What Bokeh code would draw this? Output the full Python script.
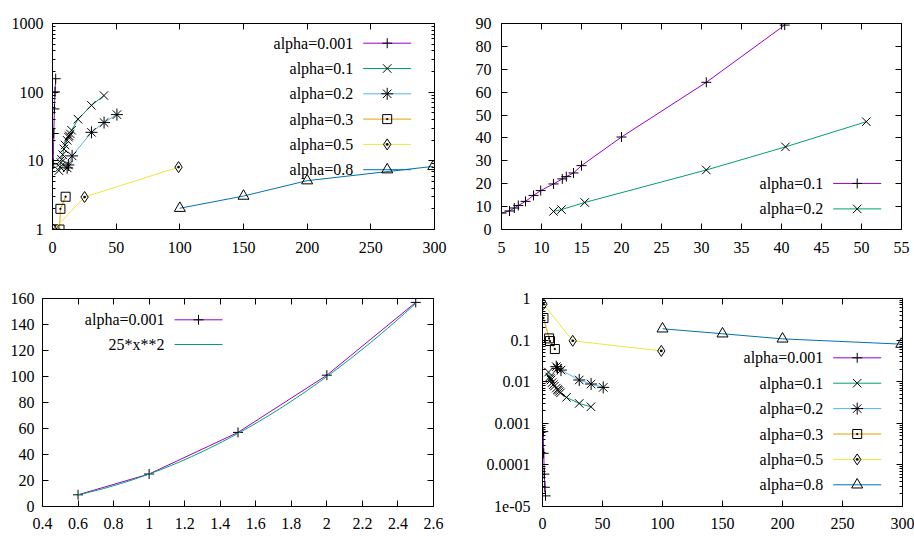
import math
import numpy as np
from bokeh.plotting import figure
from bokeh.models import Range1d, FixedTicker, LinearAxis, LogAxis, CustomJSTickFormatter
from bokeh.layouts import column, row
from bokeh.embed import file_html
from bokeh.resources import INLINE
from bokeh.core.properties import value

FONT = "'Liberation Serif', 'DejaVu Serif', serif"
FS = "16px"

# ---------------- data ----------------
names = ["alpha=0.001", "alpha=0.1", "alpha=0.2", "alpha=0.3", "alpha=0.5", "alpha=0.8"]
colors = ["#9400d3", "#009e73", "#56b4e9", "#e69f00", "#f0e442", "#0072b2"]
markers = ["cross", "x", "asterisk", "square_dot", "diamond_dot", "triangle"]
msizes = {"cross": 10, "x": 12, "asterisk": 12, "square_dot": 9, "diamond_dot": 11, "triangle": 11}

x_a0001 = [0.6, 1.0, 1.5, 2.0, 2.5]
y_a0001 = [9, 25, 57, 101, 157]
r_a0001 = [6.3e-4, 1.9e-4, 6.0e-5, 2.9e-5, 1.8e-5]

x_a01 = [5.0, 6.0, 6.6, 7.1, 8.0, 9.0, 9.9, 11.5, 12.6, 13.1, 14.0, 15.0, 20.0, 30.6, 40.4]
y_a01 = [7.2, 8.1, 9.4, 10.5, 12.3, 14.9, 17.0, 19.9, 22.1, 23.1, 24.7, 27.9, 40.4, 64.3, 89.3]
r_a01 = [0.017, 0.013, 0.012, 0.011, 0.0095, 0.0085, 0.0078, 0.007, 0.0065, 0.0062, 0.0058,
         0.0054, 0.0042, 0.0030, 0.0025]

x_a02 = [11.5, 12.5, 15.4, 30.6, 40.5, 50.6]
y_a02 = [7.9, 8.7, 11.8, 26.0, 36.1, 47.1]
r_a02 = [0.023, 0.021, 0.019, 0.011, 0.0088, 0.0073]

x_a03 = [0.8, 5.5, 6.2, 10.3]
y_a03 = [1.0, 1.0, 2.0, 3.0]
r_a03 = [0.34, 0.11, 0.095, 0.061]

x_a05 = [0.8, 25.2, 99.0]
y_a05 = [1.0, 2.97, 8.1]
r_a05 = [0.73, 0.096, 0.055]

x_a08 = [100, 150, 200, 299]
y_a08 = [2.04, 3.07, 5.14, 8.3]
r_a08 = [0.187, 0.142, 0.107, 0.080]

func_label = "25*x**2"
func_coef = 25
func_power = 2

# tick labels
tl_xticks = [0, 50, 100, 150, 200, 250, 300]
tl_xlabels = ["0", "50", "100", "150", "200", "250", "300"]
tl_yticks = [1, 10, 100, 1000]
tl_ylabels = ["1", "10", "100", "1000"]

tr_xticks = [5, 10, 15, 20, 25, 30, 35, 40, 45, 50, 55]
tr_xlabels = ["5", "10", "15", "20", "25", "30", "35", "40", "45", "50", "55"]
tr_yticks = [0, 10, 20, 30, 40, 50, 60, 70, 80, 90]
tr_ylabels = ["0", "10", "20", "30", "40", "50", "60", "70", "80", "90"]

bl_xticks = [0.4, 0.6, 0.8, 1.0, 1.2, 1.4, 1.6, 1.8, 2.0, 2.2, 2.4, 2.6]
bl_xlabels = ["0.4", "0.6", "0.8", "1", "1.2", "1.4", "1.6", "1.8", "2", "2.2", "2.4", "2.6"]
bl_yticks = [0, 20, 40, 60, 80, 100, 120, 140, 160]
bl_ylabels = ["0", "20", "40", "60", "80", "100", "120", "140", "160"]

br_xticks = [0, 50, 100, 150, 200, 250, 300]
br_xlabels = ["0", "50", "100", "150", "200", "250", "300"]
br_yticks = [1e-05, 0.0001, 0.001, 0.01, 0.1, 1]
br_ylabels = ["1e-05", "0.0001", "0.001", "0.01", "0.1", "1"]


def log_minor(lo_exp, hi_exp):
    return [k * 10.0 ** e for e in range(lo_exp, hi_exp) for k in range(2, 10)]


def fmt(ticks, labels):
    return CustomJSTickFormatter(args=dict(t=list(ticks), l=list(labels)), code="""
        for (let i = 0; i < t.length; i++) {
            if (Math.abs(t[i] - tick) <= 1e-9 * Math.max(Math.abs(t[i]), 1e-12)) { return l[i]; }
        }
        return '';
    """)


def style_axis(ax, ticks, minor, formatter, standoff, hidden=False):
    ax.ticker = FixedTicker(ticks=list(ticks), minor_ticks=list(minor))
    ax.formatter = formatter
    ax.major_tick_in = 6
    ax.major_tick_out = 0
    ax.minor_tick_in = 3
    ax.minor_tick_out = 0
    ax.major_label_standoff = standoff
    ax.major_label_text_font = FONT
    ax.major_label_text_font_size = "1px" if hidden else FS
    ax.major_label_text_color = "black"
    ax.axis_line_color = "black"
    ax.axis_line_width = 1
    ax.major_tick_line_color = "black"
    ax.minor_tick_line_color = "black"


def make_fig(w, h, bl, br, bt, bb, xr, yr, ylog, xt, xl, yt, yl, ymin, xstand, ystand):
    p = figure(width=w, height=h, x_range=Range1d(*xr), y_range=Range1d(*yr),
               y_axis_type="log" if ylog else "linear", output_backend="svg",
               toolbar_location=None, title=None,
               min_border_left=bl, min_border_right=br, min_border_top=bt, min_border_bottom=bb)
    p.grid.visible = False
    p.outline_line_color = None
    p.background_fill_color = "white"
    p.border_fill_color = "white"
    style_axis(p.xaxis[0], xt, [], fmt(xt, xl), xstand)
    style_axis(p.yaxis[0], yt, ymin, fmt(yt, yl), ystand)
    top = LinearAxis()
    style_axis(top, xt, [], CustomJSTickFormatter(code="return '';"), 0, hidden=True)
    right = LogAxis() if ylog else LinearAxis()
    style_axis(right, yt, ymin, CustomJSTickFormatter(code="return '';"), 0, hidden=True)
    p.add_layout(top, "above")
    p.add_layout(right, "right")
    return p


def series(p, xs, ys, color, marker):
    p.line(x=xs, y=ys, line_color=color, line_width=1)
    if marker:
        p.scatter(x=xs, y=ys, marker=marker, size=msizes[marker], line_color="black",
                  fill_color=None, line_width=1)


def draw_key(p, xr, yr, ylog, fw, fh, text_right, top0, dy, entries):
    def dx(px):
        return xr[0] + px / fw * (xr[1] - xr[0])

    def dyv(pyt):
        f = 1 - pyt / fh
        if ylog:
            l0, l1 = math.log10(yr[0]), math.log10(yr[1])
            return 10 ** (l0 + f * (l1 - l0))
        return yr[0] + f * (yr[1] - yr[0])

    for i, (label, color, marker) in enumerate(entries):
        yy = dyv(top0 + i * dy)
        p.text(x=[dx(text_right)], y=[yy], text=[label], text_align="right",
               text_baseline="middle", text_font=value(FONT), text_font_size=value(FS),
               text_color="black")
        p.line(x=[dx(text_right + 10), dx(text_right + 58)], y=[yy, yy], line_color=color, line_width=1)
        if marker:
            p.scatter(x=[dx(text_right + 34)], y=[yy], marker=marker, size=msizes[marker],
                      line_color="black", fill_color=None, line_width=1)


# ---------------- top-left ----------------
tl_xr, tl_yr = (0, 300), (1, 1000)
p1 = make_fig(468, 270, 52, 34, 23, 41, tl_xr, tl_yr, True, tl_xticks, tl_xlabels,
              tl_yticks, tl_ylabels, log_minor(0, 3), 12, 9)
tl_x = [x_a0001, x_a01, x_a02, x_a03, x_a05, x_a08]
tl_y = [y_a0001, y_a01, y_a02, y_a03, y_a05, y_a08]
for xs, ys, c, m in zip(tl_x, tl_y, colors, markers):
    series(p1, xs, ys, c, m)
draw_key(p1, tl_xr, tl_yr, True, 382, 206, 300.7, 19.7, 25.3, list(zip(names, colors, markers)))

# ---------------- top-right ----------------
tr_xr, tr_yr = (5, 55), (0, 90)
p2 = make_fig(446, 270, 33, 13, 22, 41, tr_xr, tr_yr, False, tr_xticks, tr_xlabels,
              tr_yticks, tr_ylabels, [], 12, 10)
series(p2, x_a01, y_a01, colors[0], markers[0])
series(p2, x_a02, y_a02, colors[1], markers[1])
draw_key(p2, tr_xr, tr_yr, False, 400, 207, 321.7, 160.7, 25.6,
         [("alpha=0.1", colors[0], markers[0]), ("alpha=0.2", colors[1], markers[1])])

# ---------------- bottom-left ----------------
bl_xr, bl_yr = (0.4, 2.6), (0, 160)
p3 = make_fig(468, 268, 42, 35, 28, 32, bl_xr, bl_yr, False, bl_xticks, bl_xlabels,
              bl_yticks, bl_ylabels, [], 11, 8)
series(p3, x_a0001, y_a0001, colors[0], markers[0])
fx = np.linspace(min(x_a0001), max(x_a0001), 120)
p3.line(x=fx, y=func_coef * fx ** func_power, line_color=colors[1], line_width=1)
draw_key(p3, bl_xr, bl_yr, False, 391, 208, 122, 21.3, 24.7,
         [("alpha=0.001", colors[0], markers[0]), (func_label, colors[1], None)])

# ---------------- bottom-right ----------------
br_xr, br_yr = (0, 300), (1e-05, 1)
p4 = make_fig(446, 268, 74, 12, 28, 32, br_xr, br_yr, True, br_xticks, br_xlabels,
              br_yticks, br_ylabels, log_minor(-5, 0), 11, 12)
br_y = [r_a0001, r_a01, r_a02, r_a03, r_a05, r_a08]
for xs, ys, c, m in zip(tl_x, br_y, colors, markers):
    series(p4, xs, ys, c, m)
draw_key(p4, br_xr, br_yr, True, 360, 208, 280.7, 59.3, 25.4, list(zip(names, colors, markers)))

layout = column(row(p1, p2), row(p3, p4))
open("out.html", "w").write(file_html(layout, INLINE))
